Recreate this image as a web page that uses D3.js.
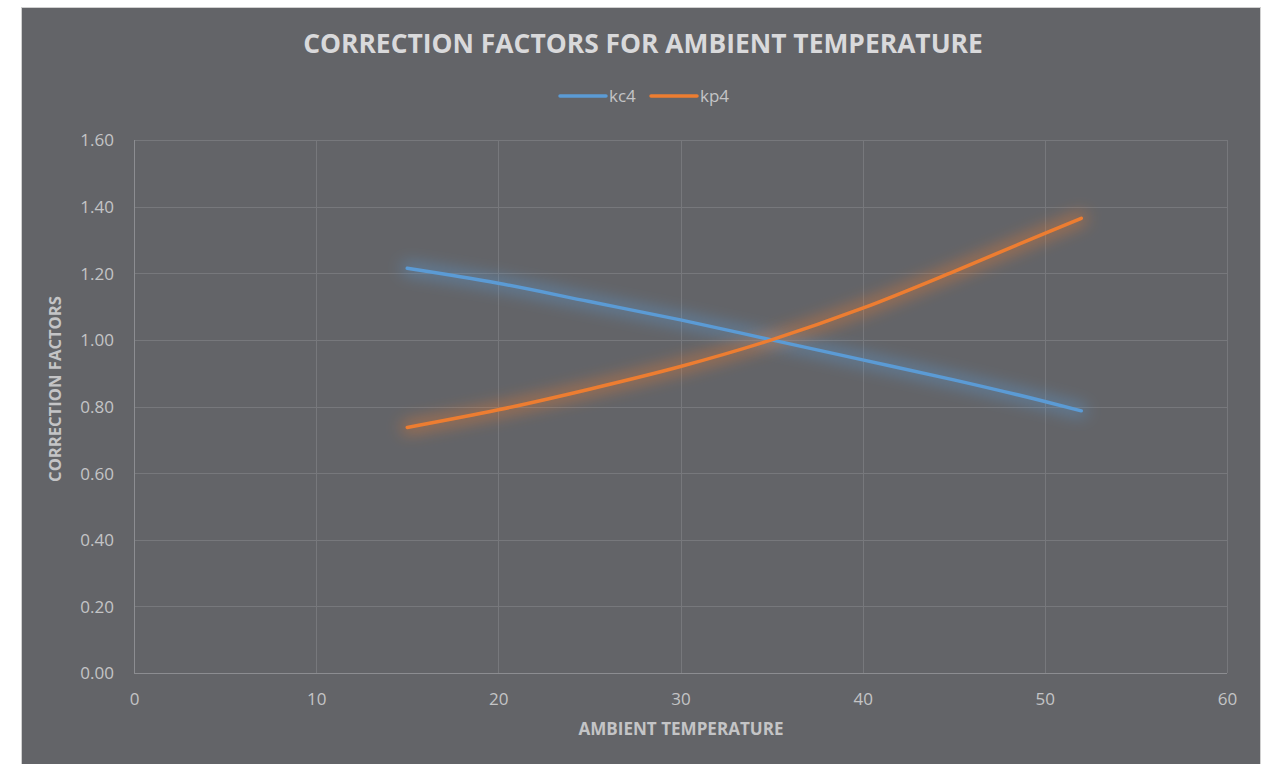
<!DOCTYPE html>
<html>
<head>
<meta charset="utf-8">
<script src="https://cdn.jsdelivr.net/npm/d3@7"></script>
<style>
  html, body { margin: 0; padding: 0; background: #ffffff; }
  svg { display: block; }
</style>
</head>
<body>
<svg id="chart" width="1268" height="764"></svg>
<script>
// ---- data ----
const temperatures = [15, 20, 25, 30, 35, 40, 45, 50, 52];
const kc4 = [1.215, 1.170, 1.115, 1.060, 1.000, 0.940, 0.880, 0.815, 0.787];
const kp4 = [0.737, 0.790, 0.852, 0.920, 1.000, 1.095, 1.205, 1.320, 1.365];
const xTicks = [0, 10, 20, 30, 40, 50, 60];
const yTicks = [0, 0.2, 0.4, 0.6, 0.8, 1.0, 1.2, 1.4, 1.6];
const seriesNames = ["kc4", "kp4"];
const seriesColors = ["#5b9bd5", "#ed7d31"];
const titleText = "CORRECTION FACTORS FOR AMBIENT TEMPERATURE";
const xTitle = "AMBIENT TEMPERATURE";
const yTitle = "CORRECTION FACTORS";

const svg = d3.select("#chart");
const font = "'Open Sans', 'Noto Sans', sans-serif";
const textColor = "#c4c4c6";

// background
svg.append("rect").attr("x", 22).attr("y", 8).attr("width", 1238).attr("height", 756)
  .attr("fill", "#636468");
svg.append("rect").attr("x", 21.5).attr("y", 7.5).attr("width", 1239).attr("height", 760)
  .attr("fill", "none").attr("stroke", "#d0d0d0").attr("stroke-width", 1);

const plot = { left: 134, right: 1227, top: 140, bottom: 673 };
const x = d3.scaleLinear().domain([0, 60]).range([plot.left, plot.right]);
const y = d3.scaleLinear().domain([0, 1.6]).range([plot.bottom, plot.top]);

function fitText(sel, target) {
  const fs = +sel.attr("font-size");
  const w = sel.node().getComputedTextLength();
  sel.attr("font-size", fs * target / w);
}

// glow filters
const defs = svg.append("defs");
seriesColors.forEach((c, i) => {
  const f = defs.append("filter").attr("id", "glow" + i)
    .attr("x", "-20%").attr("y", "-60%").attr("width", "140%").attr("height", "220%");
  f.append("feGaussianBlur").attr("in", "SourceGraphic").attr("stdDeviation", 8).attr("result", "b");
  f.append("feComponentTransfer").attr("in", "b").attr("result", "b2")
    .append("feFuncA").attr("type", "linear").attr("slope", 0.5);
  const m = f.append("feMerge");
  m.append("feMergeNode").attr("in", "b2");
});

// grid
const grid = svg.append("g");
grid.selectAll("line.h").data(yTicks).join("line")
  .attr("x1", plot.left).attr("x2", plot.right)
  .attr("y1", d => Math.round(y(d)) + 0.5).attr("y2", d => Math.round(y(d)) + 0.5)
  .attr("stroke", d => d === 0 ? "#8c8d91" : "#77787c").attr("stroke-width", 1);
grid.selectAll("line.v").data(xTicks).join("line")
  .attr("y1", plot.top).attr("y2", plot.bottom)
  .attr("x1", d => Math.round(x(d)) + 0.5).attr("x2", d => Math.round(x(d)) + 0.5)
  .attr("stroke", d => d === 0 ? "#8c8d91" : "#77787c").attr("stroke-width", 1);

// axes labels via d3 axes
const yAxis = svg.append("g").attr("transform", `translate(${plot.left - 20},0)`)
  .call(d3.axisLeft(y).tickValues(yTicks).tickFormat(d3.format(".2f")).tickSize(0).tickPadding(0));
yAxis.select(".domain").remove();
yAxis.selectAll("text").attr("fill", textColor).attr("font-family", font).attr("font-size", 17)
  .attr("dy", "0.35em");

const xAxis = svg.append("g").attr("transform", `translate(0,${plot.bottom + 26})`)
  .call(d3.axisBottom(x).tickValues(xTicks).tickFormat(d3.format("d")).tickSize(0).tickPadding(0));
xAxis.select(".domain").remove();
xAxis.selectAll("text").attr("fill", textColor).attr("font-family", font).attr("font-size", 17)
  .attr("dy", "0.35em").attr("y", 0);

// lines
const line = d3.line().x((d, i) => x(temperatures[i])).y(d => y(d)).curve(d3.curveMonotoneX);
[kc4, kp4].forEach((vals, i) => {
  svg.append("path").attr("d", line(vals)).attr("fill", "none")
    .attr("stroke", seriesColors[i]).attr("stroke-width", 12).attr("stroke-linecap", "round")
    .attr("filter", `url(#glow${i})`);
});
[kc4, kp4].forEach((vals, i) => {
  svg.append("path").attr("d", line(vals)).attr("fill", "none")
    .attr("stroke", seriesColors[i]).attr("stroke-width", 3.5).attr("stroke-linecap", "round");
});

// title
const t = svg.append("text").attr("x", 643).attr("y", 53).attr("text-anchor", "middle")
  .attr("fill", "#d9d9db").attr("font-family", font).attr("font-weight", "bold")
  .attr("font-size", 24).text(titleText);
fitText(t, 680);

// legend
const legendX = [560, 651];
seriesNames.forEach((n, i) => {
  svg.append("line").attr("x1", legendX[i]).attr("x2", legendX[i] + 46)
    .attr("y1", 96).attr("y2", 96).attr("stroke", seriesColors[i]).attr("stroke-width", 3.5)
    .attr("stroke-linecap", "round");
  svg.append("text").attr("x", legendX[i] + 49).attr("y", 96).attr("dy", "0.35em")
    .attr("fill", textColor).attr("font-family", font).attr("font-size", 17).text(n);
});

// axis titles
const xt = svg.append("text").attr("x", 681).attr("y", 729).attr("dy", "0.35em").attr("text-anchor", "middle")
  .attr("fill", textColor).attr("font-family", font).attr("font-weight", "bold").attr("font-size", 14)
  .text(xTitle);
fitText(xt, 205);
const yt = svg.append("text").attr("transform", "translate(55,389) rotate(-90)").attr("dy", "0.35em")
  .attr("text-anchor", "middle")
  .attr("fill", textColor).attr("font-family", font).attr("font-weight", "bold").attr("font-size", 14)
  .text(yTitle);
fitText(yt, 186);
</script>
</body>
</html>
